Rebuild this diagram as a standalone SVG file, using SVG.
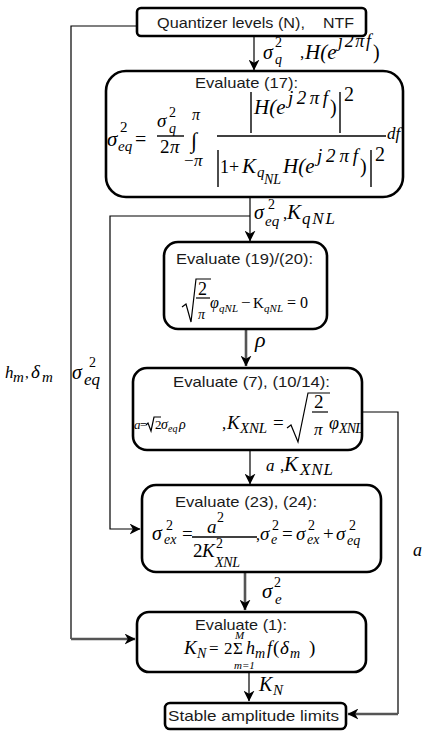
<svg xmlns="http://www.w3.org/2000/svg" width="426" height="732" viewBox="0 0 426 732">
<style>
.box{fill:#fff;stroke:#000;stroke-width:2.6}
.lbl{font-family:"Liberation Sans",Arial,sans-serif;font-size:15px;fill:#1a1a1a}
.m{font-family:"Liberation Serif","Times New Roman",serif;font-style:italic;fill:#000}
.r{font-family:"Liberation Serif","Times New Roman",serif;fill:#000}
.c{stroke:#000;stroke-width:1.2;fill:none}
.g{stroke:#555;stroke-width:2.6;fill:none}
.f{stroke:#000;stroke-width:1.4;fill:none}
</style>
<defs>
<marker id="ah" markerWidth="11" markerHeight="11" viewBox="0 0 10 10" refX="9.5" refY="5" orient="auto" markerUnits="userSpaceOnUse">
<path d="M0,0 L10,5 L0,10 L3,5 z" fill="#000"/>
</marker>
</defs>

<g id="connectors">
<path class="c" d="M254,36 V70" marker-end="url(#ah)"/>
<path class="c" d="M250,197 V241" marker-end="url(#ah)"/>
<path class="g" d="M246,330 V366" marker-end="url(#ah)"/>
<path class="c" d="M250,451 V484" marker-end="url(#ah)"/>
<path class="g" d="M245,573 V610" marker-end="url(#ah)"/>
<path class="c" d="M249,673 V701" marker-end="url(#ah)"/>
<path class="c" d="M137,26 H71 V639"/>
<path class="g" d="M71,639 H135" marker-end="url(#ah)"/>
<path class="c" d="M250,216 H110 V529 H140" marker-end="url(#ah)"/>
<path class="c" d="M362,412 H398 V714"/>
<path class="g" d="M398,714 H348" marker-end="url(#ah)"/>
</g>

<g id="edge-labels">
<text class="m" x="263" y="59" font-size="20">σ</text>
<text class="r" x="275" y="47" font-size="14">2</text>
<text class="m" x="275" y="64" font-size="14">q</text>
<text class="r" x="300" y="58" font-size="17">,</text>
<text class="m" x="305" y="59" font-size="21">H(e</text>
<text class="m" x="338" y="47" font-size="18" textLength="33">j2πf</text>
<text class="r" x="373" y="59" font-size="20">)</text>

<text class="m" x="254" y="219" font-size="20">σ</text>
<text class="r" x="268" y="209" font-size="14">2</text>
<text class="m" x="265" y="226" font-size="15">eq</text>
<text class="r" x="283" y="219" font-size="17">,</text>
<text class="m" x="287" y="219" font-size="21">K</text>
<text class="m" x="302" y="224" font-size="17" textLength="33">qNL</text>

<text class="m" x="255" y="347" font-size="22">ρ</text>

<text class="m" x="266" y="471" font-size="17">a</text>
<text class="r" x="280" y="471" font-size="17">,</text>
<text class="m" x="284" y="471" font-size="21">K</text>
<text class="m" x="300" y="475" font-size="17" textLength="33">XNL</text>

<text class="m" x="262" y="598" font-size="21">σ</text>
<text class="r" x="274" y="587" font-size="14">2</text>
<text class="m" x="275" y="604" font-size="15">e</text>

<text class="m" x="259" y="691" font-size="20">K</text>
<text class="m" x="273" y="695" font-size="15">N</text>

<text class="m" x="5" y="378" font-size="17">h</text>
<text class="m" x="13" y="382" font-size="15">m</text>
<text class="r" x="25" y="378" font-size="15">,</text>
<text class="m" x="31" y="378" font-size="19">δ</text>
<text class="m" x="42" y="382" font-size="15" textLength="16">m</text>

<text class="m" x="72" y="379" font-size="20">σ</text>
<text class="r" x="89" y="367" font-size="14">2</text>
<text class="m" x="84" y="385" font-size="17">eq</text>

<text class="m" x="413" y="556" font-size="18">a</text>
</g>

<g id="node-quantizer">
<rect class="box" x="137" y="8" width="229" height="28" rx="4"/>
<text class="lbl" x="157" y="28" textLength="148" lengthAdjust="spacingAndGlyphs">Quantizer levels (N),</text>
<text class="lbl" x="323" y="28" textLength="31" lengthAdjust="spacingAndGlyphs">NTF</text>
</g>

<g id="node-eval17">
<rect class="box" x="106" y="71" width="297" height="126" rx="20"/>
<text class="lbl" x="195" y="88" textLength="103" lengthAdjust="spacingAndGlyphs">Evaluate (17):</text>
<text class="m" x="107" y="146" font-size="21">σ</text>
<text class="r" x="120" y="132" font-size="15">2</text>
<text class="m" x="118" y="151" font-size="15">eq</text>
<text class="r" x="135" y="146" font-size="20">=</text>
<text class="m" x="157" y="127" font-size="19">σ</text>
<text class="r" x="169" y="117" font-size="14">2</text>
<text class="m" x="169" y="133" font-size="14">q</text>
<line class="f" x1="157" y1="136" x2="184" y2="136"/>
<text class="r" x="160" y="153" font-size="19">2</text>
<text class="m" x="170" y="153" font-size="19">π</text>
<text class="m" x="192" y="120" font-size="16">π</text>
<text class="r" x="191" y="148" font-size="22">∫</text>
<text class="r" x="184" y="166" font-size="17">−</text>
<text class="m" x="194" y="166" font-size="17">π</text>
<line class="f" x1="217" y1="136" x2="386" y2="136"/>
<line class="f" x1="251" y1="92" x2="251" y2="133"/>
<text class="m" x="254" y="114" font-size="21">H(e</text>
<text class="m" x="288" y="104" font-size="19" textLength="40">j2πf</text>
<text class="r" x="330" y="114" font-size="20">)</text>
<line class="f" x1="340" y1="92" x2="340" y2="133"/>
<text class="r" x="344" y="101" font-size="20">2</text>
<line class="f" x1="218" y1="150" x2="218" y2="187"/>
<text class="r" x="220" y="173" font-size="18">1+</text>
<text class="m" x="242" y="173" font-size="21">K</text>
<text class="m" x="257" y="177" font-size="15">q</text>
<text class="m" x="264" y="184" font-size="14">NL</text>
<text class="m" x="283" y="173" font-size="21">H(e</text>
<text class="m" x="317" y="162" font-size="19" textLength="41">j2πf</text>
<text class="r" x="360" y="173" font-size="20">)</text>
<line class="f" x1="371" y1="150" x2="371" y2="187"/>
<text class="r" x="375" y="161" font-size="20">2</text>
<text class="m" x="387" y="139" font-size="17">df</text>
</g>

<g id="node-eval19-20">
<rect class="box" x="164" y="242" width="163" height="87" rx="14"/>
<text class="lbl" x="176" y="264" textLength="137" lengthAdjust="spacingAndGlyphs">Evaluate (19)/(20):</text>
<path class="c" d="M182,307 L186,304 L191,322 L196,279 H211"/>
<text class="r" x="198" y="295" font-size="18">2</text>
<line class="c" x1="196" y1="298" x2="210" y2="298"/>
<text class="m" x="198" y="319" font-size="14">π</text>
<text class="m" x="210" y="308" font-size="16">φ</text>
<text class="m" x="219" y="312" font-size="11" textLength="19">qNL</text>
<text class="r" x="241" y="308" font-size="17">−</text>
<text class="r" x="253" y="308" font-size="15">K</text>
<text class="m" x="264" y="312" font-size="11" textLength="19">qNL</text>
<text class="r" x="287" y="308" font-size="16">= 0</text>
</g>

<g id="node-eval7-10-14">
<rect class="box" x="133" y="368" width="229" height="82" rx="14"/>
<text class="lbl" x="173" y="387" textLength="157" lengthAdjust="spacingAndGlyphs">Evaluate (7), (10/14):</text>
<text class="m" x="134" y="429" font-size="13">a</text>
<text class="r" x="140" y="429" font-size="12">=</text>
<path class="c" d="M146,425 L148,423 L151,431 L154,417 H161" stroke-width="0.9"/>
<text class="r" x="155" y="429" font-size="13">2</text>
<text class="m" x="161" y="429" font-size="14">σ</text>
<text class="m" x="168" y="432" font-size="10">eq</text>
<text class="m" x="179" y="429" font-size="14">ρ</text>
<text class="r" x="222" y="429" font-size="17">,</text>
<text class="m" x="227" y="429" font-size="19">K</text>
<text class="m" x="240" y="433" font-size="15" textLength="27">XNL</text>
<text class="r" x="273" y="429" font-size="19">=</text>
<path class="c" d="M287,428 L291,425 L298,442 L308,393 H330" stroke-width="1.3"/>
<text class="r" x="314" y="408" font-size="19">2</text>
<line class="c" x1="312" y1="412" x2="328" y2="412"/>
<text class="m" x="314" y="435" font-size="17">π</text>
<text class="m" x="329" y="429" font-size="18">φ</text>
<text class="m" x="339" y="433" font-size="14" textLength="24">XNL</text>
</g>

<g id="node-eval23-24">
<rect class="box" x="142" y="485" width="239" height="87" rx="14"/>
<text class="lbl" x="175" y="507" textLength="142" lengthAdjust="spacingAndGlyphs">Evaluate (23), (24):</text>
<text class="m" x="152" y="540" font-size="20">σ</text>
<text class="r" x="166" y="530" font-size="14">2</text>
<text class="m" x="164" y="544" font-size="14">ex</text>
<text class="r" x="182" y="540" font-size="19">=</text>
<text class="m" x="207" y="533" font-size="19">a</text>
<text class="r" x="217" y="522" font-size="14">2</text>
<line class="f" x1="192" y1="537" x2="257" y2="537"/>
<text class="r" x="193" y="557" font-size="19">2</text>
<text class="m" x="202" y="557" font-size="19">K</text>
<text class="r" x="216" y="548" font-size="14">2</text>
<text class="m" x="215" y="567" font-size="14" textLength="25">XNL</text>
<text class="r" x="256" y="540" font-size="16">,</text>
<text class="m" x="260" y="540" font-size="19">σ</text>
<text class="r" x="272" y="530" font-size="14">2</text>
<text class="m" x="271" y="544" font-size="14">e</text>
<text class="r" x="282" y="540" font-size="19">=</text>
<text class="m" x="296" y="540" font-size="19">σ</text>
<text class="r" x="308" y="530" font-size="14">2</text>
<text class="m" x="307" y="544" font-size="14">ex</text>
<text class="r" x="323" y="540" font-size="19">+</text>
<text class="m" x="336" y="540" font-size="19">σ</text>
<text class="r" x="349" y="530" font-size="14">2</text>
<text class="m" x="347" y="545" font-size="14">eq</text>
</g>

<g id="node-eval1">
<rect class="box" x="137" y="612" width="229" height="60" rx="12"/>
<text class="lbl" x="195" y="630" textLength="92" lengthAdjust="spacingAndGlyphs">Evaluate (1):</text>
<text class="m" x="184" y="654" font-size="19">K</text>
<text class="m" x="197" y="658" font-size="14">N</text>
<text class="r" x="209" y="654" font-size="17">=</text>
<text class="r" x="224" y="654" font-size="17">2</text>
<text class="r" x="233" y="654" font-size="17">Σ</text>
<text class="m" x="235" y="639" font-size="11">M</text>
<text class="m" x="234" y="669" font-size="11">m=1</text>
<text class="m" x="246" y="654" font-size="18">h</text>
<text class="m" x="255" y="658" font-size="14">m</text>
<text class="m" x="267" y="654" font-size="18">f</text>
<text class="r" x="273" y="654" font-size="19">(</text>
<text class="m" x="280" y="654" font-size="19">δ</text>
<text class="m" x="290" y="658" font-size="14" textLength="14">m</text>
<text class="r" x="309" y="654" font-size="19">)</text>
</g>

<g id="node-stable">
<rect class="box" x="165" y="703" width="181" height="26" rx="5"/>
<text class="lbl" x="168" y="721" textLength="171" lengthAdjust="spacingAndGlyphs">Stable amplitude limits</text>
</g>
</svg>
